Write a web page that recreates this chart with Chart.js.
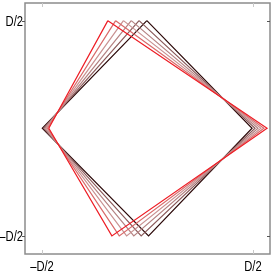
<!DOCTYPE html>
<html>
<head>
<meta charset="utf-8">
<script src="https://cdn.jsdelivr.net/npm/chart.js@4/dist/chart.umd.min.js"></script>
<style>
  body { margin: 0; background: #fff; }
</style>
</head>
<body>
<canvas id="myChart" width="273" height="272"></canvas>
<script>
// quads going from black (first) to red (last), in units of D
const topX    = [-0.005, -0.042, -0.079, -0.116, -0.153, -0.190]
const rightX  = [0.494, 0.508, 0.522, 0.536, 0.550, 0.565]
const bottomX = [0.003, -0.032, -0.067, -0.101, -0.136, -0.171]
const leftX   = [-0.501, -0.495, -0.489, -0.483, -0.476, -0.470]
const topY = 0.5
const midY = 0
const bottomY = -0.5

const tickVals = [-0.5, 0.5]
const tickLabels = ['\u2013D/2', 'D/2']

const colors = ['#2b0808', '#8a5a5a', '#b58383', '#c99292', '#d86a6a', '#ee1c24']

const datasets = topX.map((t, i) => ({
    data: [
        {x: t, y: topY},
        {x: rightX[i], y: midY},
        {x: bottomX[i], y: bottomY},
        {x: leftX[i], y: midY},
        {x: t, y: topY},
    ],
    showLine: true,
    borderColor: colors[i],
    borderWidth: 1.2,
    pointRadius: 0,
    order: topX.length - i,
}))

// box round the plot area, tick marks and narrow tick labels
const boxPlugin = {
    id: 'box',
    afterDraw(chart) {
        const {ctx, chartArea: a, scales} = chart
        ctx.save()
        ctx.strokeStyle = '#8c8c8c'
        ctx.lineWidth = 1.5
        ctx.strokeRect(a.left, a.top, a.right - a.left, a.bottom - a.top)

        ctx.lineWidth = 1
        tickVals.forEach((v, i) => {
            const px = Math.round(scales.x.getPixelForValue(v)) + 0.5
            const py = Math.round(scales.y.getPixelForValue(v)) + 0.5
            ctx.strokeStyle = '#c8c8c8'
            ctx.beginPath()
            ctx.moveTo(px, a.bottom); ctx.lineTo(px, a.bottom - 4)
            ctx.moveTo(px, a.top); ctx.lineTo(px, a.top + 4)
            ctx.stroke()
            ctx.strokeStyle = '#555'
            ctx.beginPath()
            ctx.moveTo(a.left, py); ctx.lineTo(a.left - 3, py)
            ctx.moveTo(a.right, py); ctx.lineTo(a.right - 3, py)
            ctx.stroke()

            ctx.fillStyle = '#000'
            ctx.font = '14px "Liberation Sans", Arial, sans-serif'
            // x label
            ctx.save()
            ctx.translate(px - 0.5, 271)
            ctx.scale(0.8, 1)
            ctx.textAlign = 'center'
            ctx.textBaseline = 'alphabetic'
            ctx.fillText(tickLabels[i], 0, 0)
            ctx.restore()
            // y label
            ctx.save()
            ctx.translate(a.left - 2, py + 1)
            ctx.scale(0.8, 1)
            ctx.textAlign = 'right'
            ctx.textBaseline = 'middle'
            ctx.fillText(tickLabels[i], 0, 0)
            ctx.restore()
        })
        ctx.restore()
    }
}

const ctx = document.getElementById('myChart').getContext('2d')
new Chart(ctx, {
    type: 'scatter',
    data: {datasets},
    plugins: [boxPlugin],
    options: {
        responsive: false,
        animation: false,
        layout: {padding: {top: 3, right: 3, left: 0, bottom: 0}},
        plugins: {legend: {display: false}, tooltip: {enabled: false}},
        scales: {
            x: {
                min: -0.583, max: 0.579,
                afterBuildTicks: s => { s.ticks = tickVals.map(v => ({value: v})) },
                afterFit: s => { s.height = 18 },
                ticks: {display: false},
                grid: {display: false},
                border: {display: false},
            },
            y: {
                min: -0.584, max: 0.582,
                afterBuildTicks: s => { s.ticks = tickVals.map(v => ({value: v})) },
                afterFit: s => { s.width = 25 },
                ticks: {display: false},
                grid: {display: false},
                border: {display: false},
            }
        }
    }
})
</script>
</body>
</html>
